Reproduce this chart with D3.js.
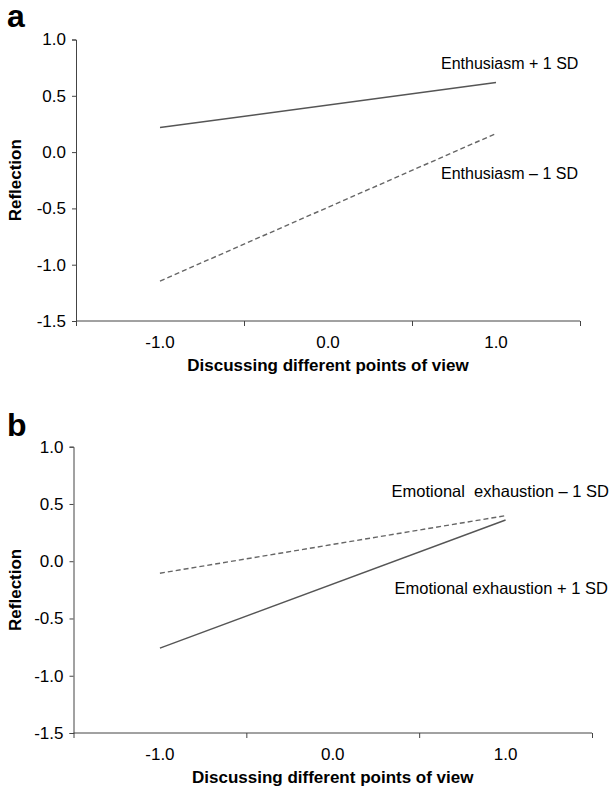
<!DOCTYPE html>
<html>
<head>
<meta charset="utf-8">
<script src="https://cdn.jsdelivr.net/npm/d3@7"></script>
<style>
  body { margin: 0; background: #fff; }
  text { font-family: "Liberation Sans", Arial, sans-serif; }
</style>
</head>
<body>
<div id="chart"></div>
<script>
// Data
const xCategories = ["-1.0", "0.0", "1.0"];
const lineX = ["-1.0", "1.0"];
const yTicks = [-1.5, -1.0, -0.5, 0.0, 0.5, 1.0];

const enthusiasmHigh = [0.218, 0.618];
const enthusiasmLow = [-1.145, 0.165];
const exhaustionLow = [-0.105, 0.398];
const exhaustionHigh = [-0.759, 0.36];

const xTitle = "Discussing different points of view";
const yTitle = "Reflection";

const svg = d3.select("#chart")
    .append("svg")
    .attr("width", 613)
    .attr("height", 787);

function drawPanel(opts) {
    const x = d3.scaleBand()
        .domain(xCategories)
        .range([opts.left, opts.right])
        .padding(0);

    const y = d3.scaleLinear()
        .domain([-1.5, 1.0])
        .range([opts.bottom, opts.top]);

    const g = svg.append("g");

    // panel letter
    g.append("text")
        .attr("x", 7)
        .attr("y", opts.letterY)
        .attr("font-size", "32px")
        .attr("font-weight", "bold")
        .text(opts.letter);

    // y axis
    const yAxis = g.append("g")
        .attr("transform", `translate(${opts.left},0)`)
        .call(d3.axisLeft(y).tickValues(yTicks).tickSize(4).tickPadding(6)
            .tickFormat(d => d.toFixed(1)));
    yAxis.selectAll("text").attr("font-size", "17px").attr("fill", "#000")
        .style("font-family", "'Liberation Sans', Arial, sans-serif");
    yAxis.selectAll("line, path").attr("stroke", "#444");

    // x axis: tick marks between categories, labels at centres
    const bounds = d3.scaleLinear().domain([0, xCategories.length]).range([opts.left, opts.right]);
    const xTicks = g.append("g")
        .attr("transform", `translate(0,${opts.bottom})`)
        .call(d3.axisBottom(bounds).ticks(xCategories.length).tickSize(5).tickFormat(""));
    xTicks.selectAll("line, path").attr("stroke", "#444");
    xTicks.select(".domain").attr("d", `M${opts.left},0H${opts.right}`);

    const xLabels = g.append("g")
        .attr("transform", `translate(0,${opts.bottom})`)
        .call(d3.axisBottom(x).tickSize(0).tickPadding(14.5));
    xLabels.select(".domain").remove();
    xLabels.selectAll("text").attr("font-size", "17px").attr("fill", "#000")
        .style("font-family", "'Liberation Sans', Arial, sans-serif");

    // axis titles
    g.append("text")
        .attr("x", (opts.left + opts.right) / 2)
        .attr("y", opts.bottom + 50)
        .attr("text-anchor", "middle")
        .attr("font-size", "17px")
        .attr("font-weight", "bold")
        .text(xTitle);

    g.append("text")
        .attr("transform", `translate(21,${(opts.top + opts.bottom) / 2}) rotate(-90)`)
        .attr("text-anchor", "middle")
        .attr("font-size", "17px")
        .attr("font-weight", "bold")
        .text(yTitle);

    // lines
    const line = d3.line()
        .x((d, i) => x(lineX[i]) + x.bandwidth() / 2)
        .y(d => y(d));

    opts.series.forEach(s => {
        g.append("path")
            .datum(s.values)
            .attr("d", line)
            .attr("fill", "none")
            .attr("stroke", s.dashed ? "#666" : "#555")
            .attr("stroke-width", 1.4)
            .attr("stroke-dasharray", s.dashed ? "5,3" : null);

        g.append("text")
            .attr("x", x("1.0") + x.bandwidth() / 2 - s.labelDx)
            .attr("y", y(s.labelY))
            .attr("dy", "0.36em")
            .attr("font-size", opts.labelSize)
            .style("white-space", "pre")
            .text(s.name);
    });
}

drawPanel({
    letter: "a", letterY: 27,
    left: 76, right: 580, top: 39.5, bottom: 321,
    labelSize: "16px",
    series: [
        { name: "Enthusiasm + 1 SD", values: enthusiasmHigh, dashed: false, labelY: 0.787, labelDx: 55 },
        { name: "Enthusiasm \u2013 1 SD", values: enthusiasmLow, dashed: true, labelY: -0.19, labelDx: 55 }
    ]
});

drawPanel({
    letter: "b", letterY: 436,
    left: 73.5, right: 592, top: 446.7, bottom: 733,
    labelSize: "16.5px",
    series: [
        { name: "Emotional  exhaustion \u2013 1 SD", values: exhaustionLow, dashed: true, labelY: 0.615, labelDx: 114 },
        { name: "Emotional exhaustion + 1 SD", values: exhaustionHigh, dashed: false, labelY: -0.238, labelDx: 111 }
    ]
});
</script>
</body>
</html>
